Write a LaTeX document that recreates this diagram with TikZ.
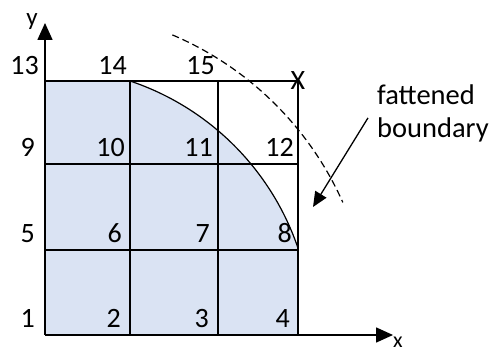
\documentclass[tikz,border=0pt]{standalone}
\usepackage{fontspec}
\setmainfont{Carlito}
\usepackage{tikz}
\usetikzlibrary{arrows.meta, positioning, calc}
\definecolor{cellblue}{RGB}{218,227,243}

\begin{document}
\begin{tikzpicture}[
    x=1pt, y=1pt,
    grid/.style={line width=1.6pt},
    bound/.style={line width=1.2pt},
    fat/.style={line width=1.2pt, dash pattern=on 7pt off 4pt},
    axis/.style={line width=1.6pt, -{Triangle[length=17pt, width=15pt]}},
    arr/.style={line width=1.3pt, -{Triangle[length=15pt, width=13pt]}},
    num/.style={font=\fontsize{28}{32}\selectfont, inner sep=0pt, anchor=base east},
    axlab/.style={font=\fontsize{25}{28}\selectfont, inner sep=0pt, anchor=base},
    note/.style={font=\fontsize{28.5}{33}\selectfont, align=left, inner sep=0pt},
  ]
    \useasboundingbox (0,0) rectangle (491,354);

    % Origin of the grid
    \coordinate (o) at (45,19);

    % Cells inside the boundary
    \fill[cellblue] (o) -- (45,273) -- (130,273)
      arc[start angle=71.5, end angle=18.56, radius=267] -- (298,19) -- cycle;

    % Grid
    \draw[grid] (45,273) -- (298,273) (45,190) -- (298,190) (45,104) -- (298,104);
    \draw[grid] (130,19) -- (130,273) (218,19) -- (218,273) (298,19) -- (298,273);

    % Boundary and fattened boundary
    \draw[bound] (130,273) arc[start angle=71.5, end angle=18.56, radius=267];
    \draw[fat] (o) ++(67:326) arc[start angle=67, end angle=24, radius=326];

    % Axes
    \draw[axis] (o) -- (45,331);
    \draw[axis] (o) -- (393,19);
    \node[axlab] (ylab) at (32,328) {y};
    \node[axlab, font=\fontsize{22}{24}\selectfont] (xlab) at (398,6) {x};

    % Cell numbers
    \foreach \t/\x/\y in {1/35/26, 2/121/26, 3/209/26, 4/290/26,
                          5/35/111, 6/122/111, 7/210/111, 8/292/111,
                          9/35/197, 10/125/197, 11/213/197, 12/294/197,
                          13/39/279, 14/127/279, 15/215/279}
      \node[num] (n\t) at (\x,\y) {\t};
    \node[font=\fontsize{28}{32}\selectfont, inner sep=0pt] (corner) at (298,273) {X};

    % Label
    \node[note, anchor=north west] (fb) at (377,269) {fattened\\boundary};
    \coordinate (tip) at (313,147);
    \draw[arr] ([xshift=-9pt, yshift=-4pt]fb.west) -- (tip);
\end{tikzpicture}
\end{document}
